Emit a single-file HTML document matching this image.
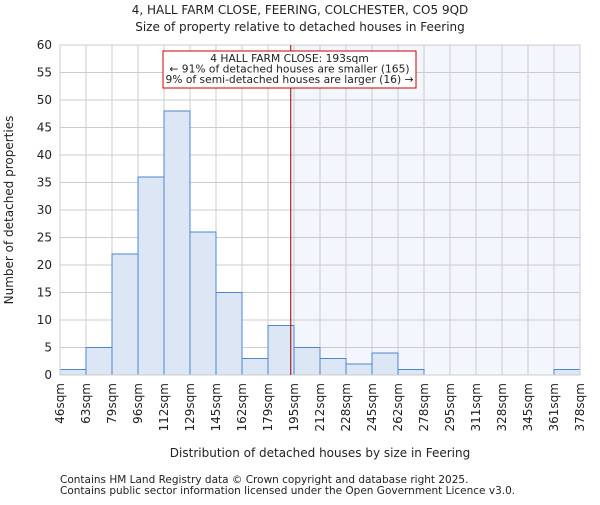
<!DOCTYPE html>
<html><head><meta charset="utf-8"><style>
body{margin:0;background:#fff;}
svg text{font-family:"DejaVu Sans","Liberation Sans",sans-serif;fill:#222;}
</style></head><body>
<svg id="chart" width="600" height="500" xmlns="http://www.w3.org/2000/svg">
<text x="300" y="14" text-anchor="middle" font-size="12">4, HALL FARM CLOSE, FEERING, COLCHESTER, CO5 9QD</text>
<text x="300" y="31" text-anchor="middle" font-size="12">Size of property relative to detached houses in Feering</text>
<g id="plot"></g>
<text x="320" y="457" text-anchor="middle" font-size="12">Distribution of detached houses by size in Feering</text>
<text transform="translate(13,210) rotate(-90)" text-anchor="middle" font-size="12">Number of detached properties</text>
<text x="60" y="483" font-size="10.5">Contains HM Land Registry data © Crown copyright and database right 2025.</text>
<text x="60" y="494" font-size="10.5">Contains public sector information licensed under the Open Government Licence v3.0.</text>
</svg>
<script>
const binLabels=["46sqm","63sqm","79sqm","96sqm","112sqm","129sqm","145sqm","162sqm","179sqm","195sqm","212sqm","228sqm","245sqm","262sqm","278sqm","295sqm","311sqm","328sqm","345sqm","361sqm","378sqm"];
const binEdges=[46,63,79,96,112,129,145,162,179,195,212,228,245,262,278,295,311,328,345,361,378];
const counts=[1,5,22,36,48,26,15,3,9,5,3,2,4,1,0,0,0,0,0,1];
const yTicks=[0,5,10,15,20,25,30,35,40,45,50,55,60];
const subjectSize=193;
const L=60,R=580,T=45,B=375,yMax=60;
const n=counts.length,bw=(R-L)/n;
const x=i=>L+i*bw;
const y=v=>B-(v/yMax)*(B-T);
const xv=s=>{for(let i=0;i<binEdges.length-1;i++){if(s<=binEdges[i+1])return x(i)+bw*(s-binEdges[i])/(binEdges[i+1]-binEdges[i]);}return R;};
const g=document.getElementById('plot');const NS='http://www.w3.org/2000/svg';
function mk(t,a){const e=document.createElementNS(NS,t);for(const k in a)e.setAttribute(k,a[k]);g.appendChild(e);return e;}
const sx=xv(subjectSize);
let e=mk('rect',{x:sx,y:T,width:R-sx,height:B-T,fill:'#f3f6fd'});


yTicks.forEach(v=>{let l=mk('line',{x1:L,x2:R,y1:y(v),y2:y(v),stroke:'#cccccc'});


let t=mk('text',{x:L-8,y:y(v)+4,'text-anchor':'end','font-size':12});t.textContent=v;

});
binLabels.forEach((s,i)=>{let l=mk('line',{x1:x(i),x2:x(i),y1:T,y2:B,stroke:'#cccccc'});


let t=mk('text',{'text-anchor':'end','font-size':12,transform:`translate(${x(i)+4},${B+8}) rotate(-90)`});t.textContent=s;

});
counts.forEach((c,i)=>{if(c<=0)return;let r=mk('rect',{x:x(i),y:y(c),width:bw,height:B-y(c),fill:'#dce6f5',stroke:'#4f86d0','stroke-width':1});

});
let ax=mk('rect',{x:L,y:T,width:R-L,height:B-T,fill:'none',stroke:'#cccccc'});


let vl=mk('line',{x1:sx,x2:sx,y1:T,y2:B,stroke:'#990000','stroke-width':1});


let box=mk('rect',{x:163,y:51,width:253,height:37,fill:'#fff',stroke:'#cc0000'});


["4 HALL FARM CLOSE: 193sqm","← 91% of detached houses are smaller (165)","9% of semi-detached houses are larger (16) →"].forEach((s,i)=>{let t=mk('text',{x:289.5,y:62+i*10.5,'text-anchor':'middle','font-size':10.7});t.textContent=s;

});
</script>
</body></html>
